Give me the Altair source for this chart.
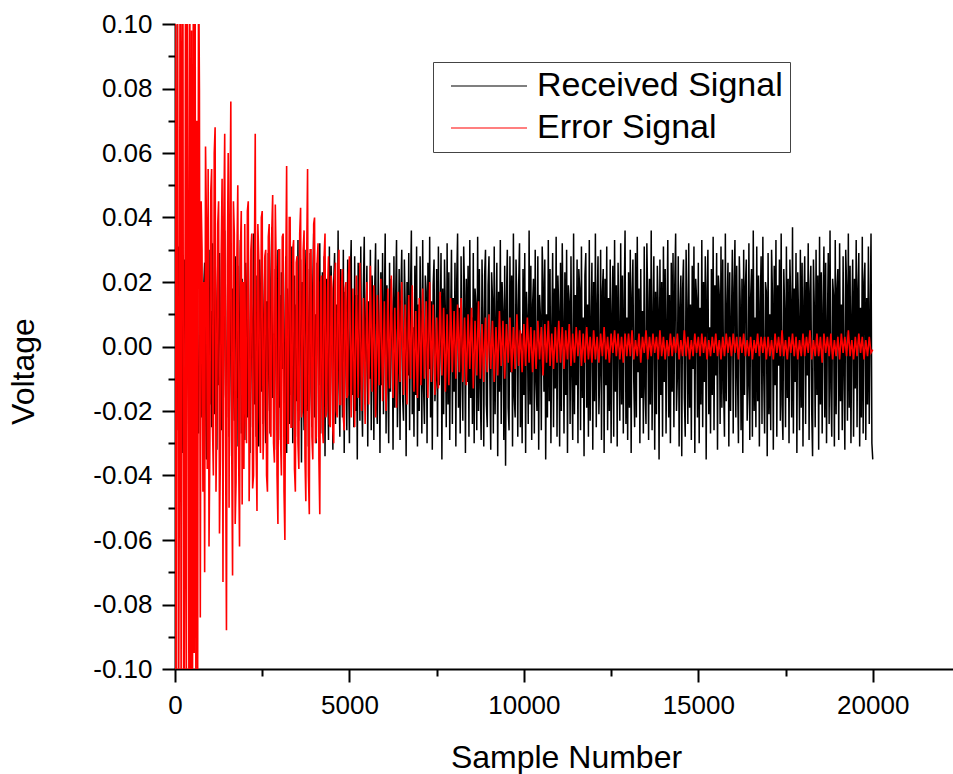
import altair as alt
import pandas as pd

# Sample positions
rec_samples = list(range(0, 20001, 25))                                 # every 25 samples
err_samples = list(range(0, 5000, 25)) + list(range(5000, 20001, 50))  # finer at the start

# Received signal, in millivolts
received_mv = [
    0, 18, -26, 9, 31, -14, -28, 22, 6, -33, 17, 27, -11, -24, 29, -6, -19, 34, 12, -30,
    21, -9, 25, -31, 3, 28, -17, -27, 15, 33, -22, 8, -29, 19, 26, -13, -35, 24, -4, 30,
    -18, 11, -25, 32, -8, -21, 27, 14, -32, 20, -12, 29, 5, -26, 23, -30, 16, 36, -15, -22,
    10, 31, -28, 7, 24, -34, 18, -9, -23, 28, 13, -31, 25, -16, 2, 33, -27, 21, -19, 9,
    -29, 26, 15, -22, 30, -11, -33, 19, 6, -25, 35, -18, 12, -28, 22, -5, -31, 27, 17, -14,
    32, -24, 8, 25, -30, 14, -20, 29, -10, -27, 21, 37, -16, 4, -32, 24, 11, -26, 30, -19,
    16, -29, 23, -7, 34, -21, -12, 28, -33, 18, 9, -24, 26, -15, 31, -30, 5, 22, -28, 13,
    -17, 33, -23, 11, 27, -36, 20, -8, -26, 30, 15, -20, 24, -31, 6, 29, -14, -25, 19, 35,
    -22, 10, -30, 26, 17, -12, 32, -27, 3, 23, -19, 28, -34, 14, 21, -9, -29, 31, -16, 25,
    8, -32, 20, 29, -24, 13, -18, 36, -11, -28, 24, 5, -22, 30, -33, 17, 12, -26, 27, -7,
    -30, 21, 33, -15, 9, -25, 28, -20, 16, -35, 26, 11, -23, 31, -13, -28, 19, 34, -18, 4,
    25, -31, 14, -10, 30, -26, 22, 7, -29, 18, 32, -17, -24, 27, 3, -33, 23, -12, 29, -21,
    12, 35, -27, 19, -8, -30, 26, -14, 21, 10, -32, 28, -19, 15, 33, -25, -6, 24, -29, 17,
    30, -16, -23, 27, 11, -34, 20, -9, 29, -26, 16, 36, -21, 6, -28, 25, -15, 31, -31, 13,
    -20, 28, 9, -27, 33, -13, -24, 22, 17, -30, 26, -7, 34, -22, 14, -32, 19, 27, -17, -10,
    24, -28, 31, -12, 5, 29, -35, 18, -21, 27, 10, -25, 32, -18, 23, -29, 8, 30, -24, 15,
    -14, 26, -31, 20, 35, -19, 12, -27, 28, -6, -23, 31, 16, -33, 21, -11, 25, -28, 33, -16,
    9, -24, 29, -30, 18, 13, -26, 34, -20, 24, -13, -29, 27, 7, -31, 22, 30, -18, -25, 19,
    28, -10, -32, 23, 15, -27, 31, -21, 6, 26, -34, 17, -14, 33, -24, 20, 11, -29, 25, -37,
    14, 30, -19, -26, 28, -8, 22, -31, 35, -16, -22, 27, 12, -28, 19, 32, -25, 4, -30, 24,
    -15, 29, -33, 17, 8, -24, 36, -18, 25, -29, 13, 21, -27, 30, -11, -20, 28, -32, 16, 9,
    -26, 31, 20, -14, 27, -35, 10, -22, 33, -17, 24, -30, 5, 29, -25, 18, -13, 34, -28, 22,
    11, -31, 26, -20, 32, 7, -27, 23, -15, 30, -33, 19, 14, -24, 28, -9, -29, 35, -21, 16,
    -12, 27, -30, 24, 18, -26, 31, -16, 9, -34, 22, 29, -19, 13, -28, 33, -23, 6, 26, -32,
    20, -17, 35, -25, 12, 28, -21, -8, 30, -29, 17, 24, -33, 21, -12, 31, -26, 15, -20, 27,
    -30, 10, 25, -28, 33, -14, 19, -31, 26, 4, -23, 32, -18, 22, -27, 14, 36, -24, 9, -29,
    23, -19, 30, -33, 16, 27, -11, -25, 29, -22, 34, -8, 18, -30, 24, -16, 11, -27, 31, -13,
    -24, 32, 14, -29, 21, -18, 36, -26, 8, 28, -32, 17, -21, 25, 12, -35, 27, -15, 20, -28,
    31, -11, 24, -27, 7, 33, -22, 16, -30, 26, -14, 29, -25, 19, 35, -20, -9, 28, -31, 12,
    22, -34, 18, 27, -16, -28, 30, 10, -24, 32, -19, 13, -29, 25, -7, 31, -33, 21, 15, -22,
    26, -30, 12, -18, 33, -25, 20, -11, 28, -35, 17, 30, -21, 6, -27, 24, -15, 34, -26, 19,
    -9, 29, -32, 22, 16, -24, 31, -19, 27, -13, -28, 35, -17, 11, 26, -31, 23, -20, 8, 30,
    -27, 18, 33, -22, 25, -10, -30, 28, 14, -26, 21, -33, 30, -15, 19, 27, -23, -12, 32, -29,
    15, 24, -28, 36, -20, 9, -25, 31, -17, 22, -31, 13, 28, -24, 34, -8, -27, 20, 17, -34,
    29, -21, 10, -26, 30, 16, -32, 25, -12, 33, -28, 19, -6, 27, -23, 35, -18, -29, 24, 11,
    -25, 31, -16, 21, -30, 27, 13, -22, 37, -27, 18, -11, 29, -33, 23, 8, -26, 30, -19, 26,
    -31, 14, 28, -24, 20, -9, 32, -29, 17, 25, -20, -34, 27, 12, -25, 30, -15, 22, -32, 34,
    -18, 23, -27, 11, 31, -22, 26, -30, 7, 29, -24, 36, -13, -28, 21, 16, -31, 33, -21, 18,
    24, -29, 32, -17, 13, -26, 28, -8, -32, 30, 19, -23, 35, -19, 25, -30, 10, 27, -28, 21,
    -13, 33, -25, 18, 29, -31, 12, -22, 34, -27, 20, 26, -29, 15, -18, 31, -24, 9, 35, -30,
    -35,
]

# Error signal, in millivolts
error_mv = [
    # 0 .. 4975, every 25 samples
    140, -150, 60, 120, -130, -40, 160, -110, 90, 135, -145, -70, 105, -125, 150, 30, -115, 120, -160, 98,
    -130, 110, -95, 140, -120, 70, -100, 125, 80, -84, 45, 30, -45, 20, -70, 62, 40, -38, 55, -62,
    -30, 48, 55, -25, -40, 60, 68, -45, -20, 38, 45, -58, -35, 30, 52, -73, 40, 66, -30, -88,
    25, 60, -50, 40, 76, -30, -71, 45, 35, -55, -42, 28, 50, -35, -62, 30, 42, -49, 20, -38,
    38, -20, -30, 42, 45, -48, -25, 30, 35, -44, -40, 25, 66, -30, -51, 38, 28, -22, -33, 40,
    42, -35, -22, 28, 30, -40, -45, 34, 38, -26, -28, 36, 47, -30, -36, 44, 25, -40, -55, 30,
    30, -28, -40, 34, 35, -45, -60, 22, 56, -30, -30, 40, 40, -25, -25, 30, 33, -38, -45, 26,
    28, -30, -38, 35, 43, -22, -20, 30, 36, -34, -48, 28, 55, -40, -52, 30, 30, -28, -35, 38,
    40, -30, -28, 26, 32, -35, -52, 20, 22, -25, -30, 28, 35, -22, -20, 18, 28, -24, -25, 22,
    18, -26, -30, 22, 26, -20, -22, 25, 30, -18, -18, 20, 24, -22, -26, 18, 20, -16, -15, 22,
    # 5000 .. 20000, every 50 samples
    28, -22, 18, -25, 22, -16, 26, -20, 15, -24, 20, -18, 25, -14, 19, -22, 16, -12, 21, -17,
    14, -20, 18, -13, 22, -16, 12, -19, 17, -11, 20, -15, 13, -18, 16, -10, 19, -14, 11, -16,
    15, -12, 18, -10, 14, -16, 20, -11, 13, -15, 9, -13, 17, -9, 12, -14, 10, -12, 15, -8,
    11, -10, 13, -8, 15, -11, 9, -12, 10, -7, 12, -13, 8, -9, 14, -10, 7, -11, 9, -8,
    10, -7, 8, -11, 6, -9, 11, -6, 8, -10, 7, -5, 9, -8, 6, -7, 10, -6, 5, -8,
    7, -6, 9, -5, 6, -8, 5, -7, 8, -4, 6, -9, 7, -5, 8, -6, 4, -7, 6, -5,
    8, -5, 6, -7, 5, -4, 7, -6, 4, -5, 6, -3, 5, -6, 4, -5, 6, -4, 3, -5,
    5, -4, 3, -5, 4, -3, 6, -4, 3, -5, 4, -2, 5, -3, 4, -4, 3, -5, 4, -3,
    4, -3, 5, -4, 2, -3, 4, -5, 3, -2, 5, -4, 3, -3, 4, -2, 3, -4, 5, -3,
    3, -4, 2, -3, 4, -3, 3, -2, 4, -4, 2, -3, 5, -3, 3, -4, 2, -3, 4, -2,
    3, -3, 4, -2, 3, -4, 2, -3, 3, -2, 4, -3, 2, -4, 3, -3, 4, -2, 3, -3,
    4, -2, 3, -4, 3, -2, 4, -3, 2, -3, 3, -4, 2, -2, 4, -3, 3, -2, 3, -4,
    3, -3, 2, -4, 4, -2, 3, -3, 5, -3, 2, -4, 3, -2, 4, -3, 3, -4, 2, -3,
    4, -3, 3, -2, 5, -4, 2, -3, 4, -3, 3, -5, 4, -2, 3, -3, 4, -4, 2, -3,
    3, -4, 4, -2, 3, -3, 5, -3, 2, -4, 3, -3, 4, -2, 3, -4, 2, -3, 3, -2,
    -1,
]

series_names = ["Received Signal", "Error Signal"]
series_colors = ["#000000", "#ff0000"]

x_ticks = [0, 2500, 5000, 7500, 10000, 12500, 15000, 17500, 20000]
y_ticks = [-0.10, -0.09, -0.08, -0.07, -0.06, -0.05, -0.04, -0.03, -0.02, -0.01, 0.0,
           0.01, 0.02, 0.03, 0.04, 0.05, 0.06, 0.07, 0.08, 0.09, 0.10]

rec_df = pd.DataFrame({"sample": rec_samples, "volt": [v / 1000 for v in received_mv],
                       "series": series_names[0]})
err_df = pd.DataFrame({"sample": err_samples, "volt": [v / 1000 for v in error_mv],
                       "series": series_names[1]})

FONT = "Liberation Sans"

x_enc = alt.X("sample:Q",
              scale=alt.Scale(domain=[0, 22300], nice=False, zero=False),
              axis=alt.Axis(values=x_ticks, title="Sample Number",
                            labelExpr="datum.value % 5000 === 0 ? format(datum.value, 'd') : ''",
                            tickSize={"condition": {"test": "datum.value % 5000 === 0", "value": 13}, "value": 7},
                            labelFlush=False, labelOverlap=False,
                            titleX=391, titleY=98, titleBaseline="alphabetic", titleAlign="center"))
y_enc = alt.Y("volt:Q",
              scale=alt.Scale(domain=[-0.1, 0.1], nice=False, zero=False),
              axis=alt.Axis(values=y_ticks, title="Voltage",
                            labelExpr="abs(round(datum.value*100)) % 2 === 0 ? replace(format(datum.value, '.2f'), '\u2212', '-') : ''",
                            tickSize={"condition": {"test": "abs(round(datum.value*100)) % 2 === 0", "value": 13}, "value": 7},
                            labelFlush=False, labelOverlap=False,
                            titleX=-142, titleY=347, titleAngle=270,
                            titleBaseline="alphabetic", titleAlign="center"))
color_enc = alt.Color("series:N",
                      scale=alt.Scale(domain=series_names, range=series_colors),
                      legend=alt.Legend(title=None, orient="none", legendX=258, legendY=38))

rec = alt.Chart(rec_df).mark_line(strokeWidth=1.5, clip=True).encode(x=x_enc, y=y_enc, color=color_enc)
err = alt.Chart(err_df).mark_line(strokeWidth=1.6, clip=True).encode(x=x_enc, y=y_enc, color=color_enc)

chart = alt.layer(rec, err).properties(
    width=778, height=645,
    padding={"left": 175, "top": 24, "right": 0, "bottom": 105},
    autosize=alt.AutoSizeParams(type="none"),
).configure_view(stroke=None).configure_axis(
    domainColor="black", domainWidth=2, tickColor="black", tickWidth=2,
    labelFont=FONT, labelFontSize=26, labelColor="black", labelPadding=10,
    titleFont=FONT, titleFontSize=32, titleFontWeight="normal", titleColor="black",
    grid=False,
).configure_legend(
    labelFont=FONT, labelFontSize=34, labelColor="black", labelOffset=31, labelLimit=600,
    symbolType="M-4,0H4", symbolSize=361, symbolStrokeWidth=1.2, symbolOffset=32,
    padding=7, rowPadding=8, strokeColor="#444444", fillColor="white",
)

chart.save("out.html", embed_options={"renderer": "svg", "actions": False})
